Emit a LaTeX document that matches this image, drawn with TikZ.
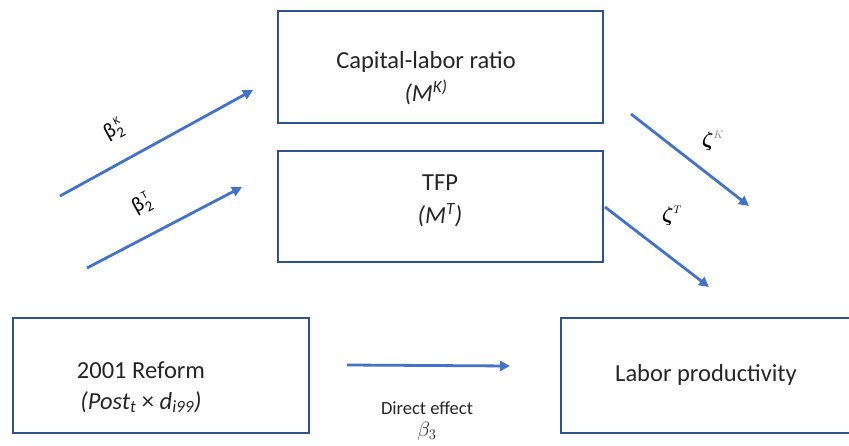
\documentclass[tikz,border=0pt]{standalone}
\usepackage{amsmath,amssymb,bm}
\usepackage{fontspec}
\setmainfont{Carlito}
\usetikzlibrary{arrows.meta}
\definecolor{boxblue}{HTML}{2F528F}
\definecolor{arrblue}{HTML}{4472C4}
\begin{document}
\begin{tikzpicture}[x=1pt,y=-1pt,
  box/.style={draw=boxblue,line width=1.6pt,rectangle,inner sep=0pt,anchor=north west},
  txt/.style={font=\fontsize{24.5}{28}\selectfont,text=black!85,inner sep=0pt},
  arr/.style={draw=arrblue,line width=2.8pt,-{Triangle[length=10pt,width=10pt]}},
  lbl/.style={font=\fontsize{21}{24}\selectfont,inner sep=0pt}]
\useasboundingbox[fill=white] (0,0) rectangle (849,446);
% boxes
\node[box,minimum width=325pt,minimum height=112pt] (cap) at (277,10) {};
\node[box,minimum width=325pt,minimum height=111pt] (tfp) at (277,150) {};
\node[box,minimum width=296pt,minimum height=115pt] (ref) at (12,317) {};
\node[box,minimum width=289pt,minimum height=115pt] (lab) at (560,317) {};
% texts
\node[txt] (capt) at (426,62) {Capital-labor ratio};
\node[txt] (capm) at (426,92) {\itshape (M\textsuperscript{K)}};
\node[txt] (tfpt) at (440,183) {TFP};
\node[txt] (tfpm) at (440,215) {\itshape (M\textsuperscript{T})};
\node[txt] (reft) at (141,370) {2001 Reform};
\node[txt] (refm) at (141,402) {\itshape (Post\textsubscript{t} \upshape×\itshape\ d\textsubscript{i99})};
\node[txt] (labt) at (706,375) {Labor productivity};
\node[txt,font=\fontsize{18.5}{20}\selectfont] (dir) at (427,408) {Direct effect};
\node[txt,font=\fontsize{22}{24}\selectfont] (b3) at (427,431) {$\beta_3$};
% arrow endpoints
\coordinate (a1s) at (60,196);  \coordinate (a1e) at (253,90);
\coordinate (a2s) at (87,268);  \coordinate (a2e) at (242,187);
\coordinate (a3s) at (631,114); \coordinate (a3e) at (749,206);
\coordinate (a4s) at (605,207); \coordinate (a4e) at (709,287);
\coordinate (a5s) at (347,365); \coordinate (a5e) at (510,366);
\draw[arr] (a1s) -- (a1e);
\draw[arr] (a2s) -- (a2e);
\draw[arr] (a3s) -- (a3e);
\draw[arr] (a4s) -- (a4e);
\draw[arr] (a5s) -- (a5e);
% labels
\node[lbl,rotate=29] (l1) at (114,130) {$\text{β}_{\text{2}}^{\,\text{\fontsize{11}{11}\selectfont K}}$};
\node[lbl,rotate=29] (l2) at (142,204) {$\text{β}_{\text{2}}^{\,\text{\fontsize{11}{11}\selectfont T}}$};
\node[lbl] (l3) at (713,141) {$\bm{\zeta}^{\color{gray}\scriptscriptstyle K}$};
\node[lbl] (l4) at (672,216) {$\bm{\zeta}^{\scriptscriptstyle T}$};
\end{tikzpicture}
\end{document}
